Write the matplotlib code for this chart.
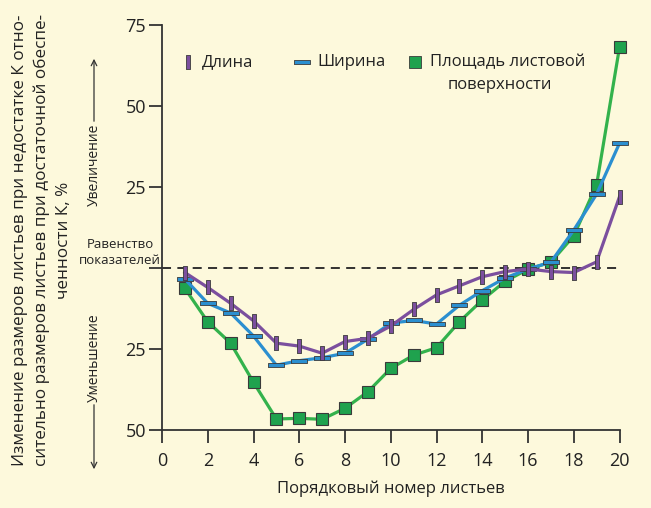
import numpy as np
import matplotlib
matplotlib.use("Agg")
import matplotlib.pyplot as plt
from matplotlib.lines import Line2D

plt.rcParams['font.family'] = ['Open Sans', 'DejaVu Sans']

# Data (percent change, negative = decrease)
leaf_no = list(range(1, 21))
length = [-1.4, -6.0, -10.9, -16.3, -23.2, -24.1, -26.3, -22.7, -21.7, -17.9,
          -12.8, -8.3, -5.5, -2.7, -1.1, -0.3, -1.1, -1.4, 1.9, 22.0]
width = [-3.4, -10.9, -13.9, -21.0, -30.0, -28.6, -27.7, -26.3, -22.0, -17.0,
         -16.2, -17.3, -11.5, -7.0, -3.1, -0.3, 1.8, 11.7, 22.8, 38.5]
area = [-6.3, -16.6, -23.2, -35.3, -46.6, -46.4, -46.7, -43.3, -38.2, -31.0,
        -26.9, -24.6, -16.6, -9.9, -4.1, -0.4, 1.8, 9.9, 25.7, 68.1]

yticks = [-50, -25, 0, 25, 50, 75]
ytick_labels = ['50', '25', '', '25', '50', '75']
xticks = list(range(0, 21, 2))

BG = '#fdf9dc'
PURPLE = '#7b4f9e'
BLUE = '#2b8fd0'
GREEN_LINE = '#33b24c'
GREEN_FILL = '#1fa24e'
EDGE = '#3a3a3a'

W, H = 651, 508
fig = plt.figure(figsize=(W / 100, H / 100), dpi=100, facecolor=BG)


def fx(x):
    return x / W


def fy(y):
    return 1 - y / H


ax = fig.add_axes([fx(162), fy(430), fx(619.5) - fx(162), fy(25) - fy(430)])
ax.set_facecolor(BG)

# custom bar-shaped markers
vbar = [(-0.3, -1), (0.3, -1), (0.3, 1), (-0.3, 1), (-0.3, -1)]
hbar = [(-1, -0.3), (1, -0.3), (1, 0.3), (-1, 0.3), (-1, -0.3)]

ax.axhline(0, color='#222222', lw=1.3, ls=(0, (5, 3.5)), zorder=1)

ax.plot(leaf_no, area, color=GREEN_LINE, lw=2.3, marker='s', ms=8.5,
        mfc=GREEN_FILL, mec=EDGE, mew=0.8, clip_on=False, zorder=3)
ax.plot(leaf_no, width, color=BLUE, lw=2.3, marker=hbar, ms=11,
        mfc=BLUE, mec=EDGE, mew=0.6, clip_on=False, zorder=4)
ax.plot(leaf_no, length, color=PURPLE, lw=2.3, marker=vbar, ms=10.5,
        mfc=PURPLE, mec=EDGE, mew=0.6, clip_on=False, zorder=5)

ax.set_xlim(0, 20)
ax.set_ylim(-50, 75)
ax.set_xticks(xticks)
ax.set_yticks(yticks)
ax.set_yticklabels(ytick_labels)
for s in ['top', 'right']:
    ax.spines[s].set_visible(False)
for s in ['left', 'bottom']:
    ax.spines[s].set_color('#333333')
    ax.spines[s].set_linewidth(1.3)
ax.tick_params(direction='out', length=9.5, width=1.3, color='#333333',
               labelsize=13, labelcolor='#222222')
ax.tick_params(axis='y', pad=2)
ax.tick_params(axis='x', pad=6)
ax.set_xlabel('Порядковый номер листьев', fontsize=12, color='#222222', labelpad=8)

# y-axis title, three lines
ylab = ['Изменение размеров листьев при недостатке К отно-',
        'сительно размеров листьев при достаточной обеспе-',
        'ченности К, %']
for i, t in enumerate(ylab):
    fig.text(fx(20 + 22 * i), fy(240), t, rotation=90, ha='center', va='center',
             fontsize=12.3, color='#222222')

# increase / decrease arrows
fig.text(fx(94), fy(165), 'Увеличение', rotation=90, ha='center', va='center',
         fontsize=10, color='#222222')
fig.text(fx(94), fy(358), 'Уменьшение', rotation=90, ha='center', va='center',
         fontsize=10, color='#222222')
fig.add_artist(matplotlib.patches.FancyArrowPatch(
    (fx(94), fy(124)), (fx(94), fy(56)), transform=fig.transFigure,
    arrowstyle='->', mutation_scale=10, lw=0.9, color='#333333'))
fig.add_artist(matplotlib.patches.FancyArrowPatch(
    (fx(94), fy(402)), (fx(94), fy(472)), transform=fig.transFigure,
    arrowstyle='->', mutation_scale=10, lw=0.9, color='#333333'))
fig.text(fx(120), fy(245), 'Равенство', ha='center', va='center', fontsize=9.5,
         color='#222222')
fig.text(fx(120), fy(260), 'показателей', ha='center', va='center', fontsize=9.5,
         color='#222222')

# legend drawn by hand
legend_items = [(188, 202, vbar, PURPLE, 10, 'Длина'),
                (302, 317, hbar, BLUE, 11, 'Ширина'),
                (415, 430, 's', GREEN_FILL, 8, 'Площадь листовой')]
for mx, tx, mk, col, ms, lab in legend_items:
    fig.add_artist(Line2D([fx(mx)], [fy(62)], transform=fig.transFigure,
                          marker=mk, ms=ms, mfc=col, mec=EDGE, mew=0.6, ls='none'))
    fig.text(fx(tx), fy(62), lab, ha='left', va='center', fontsize=12,
             color='#222222')
fig.text(fx(500), fy(85), 'поверхности', ha='center', va='center', fontsize=12,
         color='#222222')

fig.savefig('out.png', dpi=100, facecolor=BG)
